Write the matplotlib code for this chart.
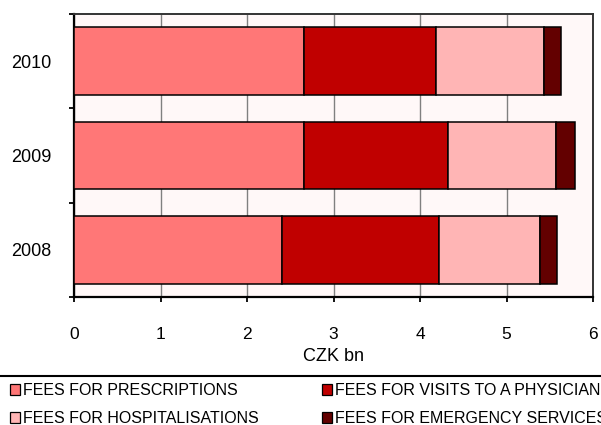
import matplotlib
matplotlib.use("Agg")
import matplotlib.pyplot as plt
from matplotlib.patches import Patch
from matplotlib.lines import Line2D

plt.rcParams['font.family'] = ['Liberation Sans', 'DejaVu Sans']

# Data (CZK bn)
years = ["2008", "2009", "2010"]
prescriptions = [2.41, 2.66, 2.66]
physician = [1.81, 1.66, 1.53]
hospitalisations = [1.17, 1.25, 1.24]
emergency = [0.19, 0.22, 0.20]

series_names = ["FEES FOR PRESCRIPTIONS", "FEES FOR VISITS TO A PHYSICIAN",
                "FEES FOR HOSPITALISATIONS", "FEES FOR EMERGENCY SERVICES"]
series_colors = ["#FF7777", "#C00000", "#FFB5B5", "#630000"]

fig = plt.figure(figsize=(6.01, 4.25), dpi=100)
ax = fig.add_axes([74 / 601, 1 - 297 / 425, 519 / 601, 283 / 425])
ax.set_facecolor("#FFF8F8")

ypos = list(range(len(years)))
left = [0.0] * len(years)
for vals, name, col in zip([prescriptions, physician, hospitalisations, emergency],
                           series_names, series_colors):
    ax.barh(ypos, vals, left=left, height=0.72, color=col,
            edgecolor="black", linewidth=1.1, label=name, zorder=3)
    left = [l + v for l, v in zip(left, vals)]

ax.set_xlim(0, 6)
ax.set_ylim(-0.5, 2.5)
ax.set_xticks(range(7))
ax.set_yticks(ypos)
ax.set_yticklabels(years)
ax.set_yticks([-0.5, 0.5, 1.5, 2.5], minor=True)
ax.tick_params(axis='y', which='major', length=0, pad=16, labelsize=13)
ax.tick_params(axis='y', which='minor', length=3.6, width=1.3, direction='out')
ax.tick_params(axis='x', length=3.6, width=1.3, direction='out', labelsize=12.5, pad=18)
ax.grid(axis='x', color="#808080", linewidth=1.0, zorder=0)
for side in ("left", "bottom"):
    ax.spines[side].set_color("black")
    ax.spines[side].set_linewidth(1.6)
for side in ("top", "right"):
    ax.spines[side].set_color("#333333")
    ax.spines[side].set_linewidth(1.4)
ax.set_xlabel("CZK bn", fontsize=13, labelpad=4)

# separator line above legend
fig.add_artist(Line2D([0, 1], [1 - 376 / 425, 1 - 376 / 425],
                      transform=fig.transFigure, color="black", linewidth=1.5))

# two legend columns, placed separately
def legend_col(idx, x0):
    handles = [Patch(facecolor=series_colors[i], edgecolor="black", linewidth=0.9) for i in idx]
    labels = [series_names[i] for i in idx]
    return fig.legend(handles, labels, loc='upper left', ncol=1,
                      bbox_to_anchor=(x0, 1 - 383 / 425), frameon=False,
                      fontsize=11.5, handlelength=0.65, handleheight=0.65,
                      handletextpad=0.15, labelspacing=0.82, borderaxespad=0,
                      borderpad=0)

legend_col([0, 2], 10 / 601)
legend_col([1, 3], 322 / 601)

fig.savefig("out.png", dpi=100)
